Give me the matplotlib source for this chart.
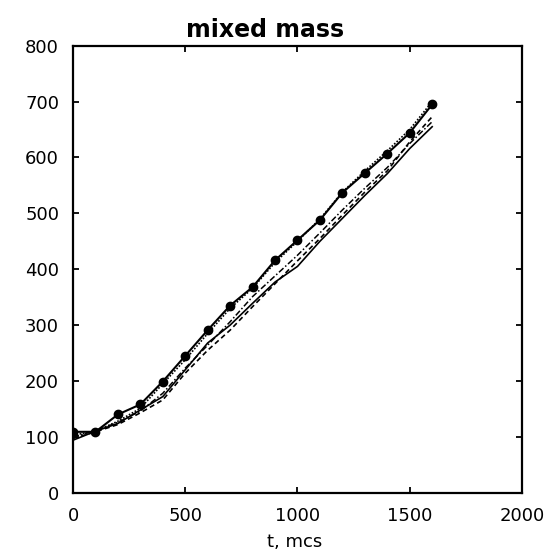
import matplotlib
matplotlib.use("Agg")
import matplotlib.pyplot as plt

# time points, mcs
t = [0, 100, 200, 300, 400, 500, 600, 700, 800, 900, 1000, 1100, 1200, 1300, 1400, 1500, 1600]

# mixed mass for each run
mass_dots = [109, 109, 140, 158, 199, 245, 291, 335, 368, 416, 452, 488, 537, 572, 607, 644, 695]
mass_dotted = [103, 110, 128, 151, 195, 238, 285, 330, 366, 412, 450, 490, 538, 576, 612, 650, 700]
mass_dashdot = [100, 111, 126, 146, 178, 223, 264, 306, 351, 388, 425, 465, 506, 545, 582, 625, 664]
mass_dashed = [97, 109, 122, 143, 166, 214, 255, 291, 333, 374, 415, 455, 497, 538, 576, 628, 673]
mass_solid = [94, 110, 124, 148, 172, 220, 268, 300, 339, 377, 405, 450, 491, 532, 571, 616, 655]

xticks = [0, 500, 1000, 1500, 2000]
yticks = [0, 100, 200, 300, 400, 500, 600, 700, 800]

plt.rcParams['font.family'] = ['DejaVu Sans']

fig = plt.figure(figsize=(5.46, 5.52), dpi=100)
ax = fig.add_axes([0.1337, 0.1074, 0.8223, 0.8098])

ax.plot(t, mass_solid, color='black', linestyle='-', linewidth=1.2)
ax.plot(t, mass_dashed, color='black', linestyle=(0, (3, 2)), linewidth=1.2)
ax.plot(t, mass_dashdot, color='black', linestyle=(0, (4, 1.5, 1, 1.5)), linewidth=1.1)
ax.plot(t, mass_dotted, color='black', linestyle=(0, (1, 1)), linewidth=1.2)
ax.plot(t, mass_dots, color='black', linestyle='-', linewidth=1.5,
        marker='o', markersize=6)

ax.set_xlim(0, 2000)
ax.set_ylim(0, 800)
ax.set_xticks(xticks)
ax.set_yticks(yticks)
ax.tick_params(direction='in', top=True, right=True, length=4, width=1.3,
               labelsize=13)
ax.tick_params(axis='x', pad=10)
ax.tick_params(axis='y', pad=10)
for s in ax.spines.values():
    s.set_linewidth(1.6)

# title sits a bit left of the axes centre in the original
fig.text(265 / 546, 1 - 30 / 552, 'mixed mass', fontsize=17, fontweight='bold',
         ha='center', va='center')
fig.text(295 / 546, 1 - 542 / 552, 't, mcs', fontsize=13, ha='center', va='center')

fig.savefig('out.png', dpi=100)
